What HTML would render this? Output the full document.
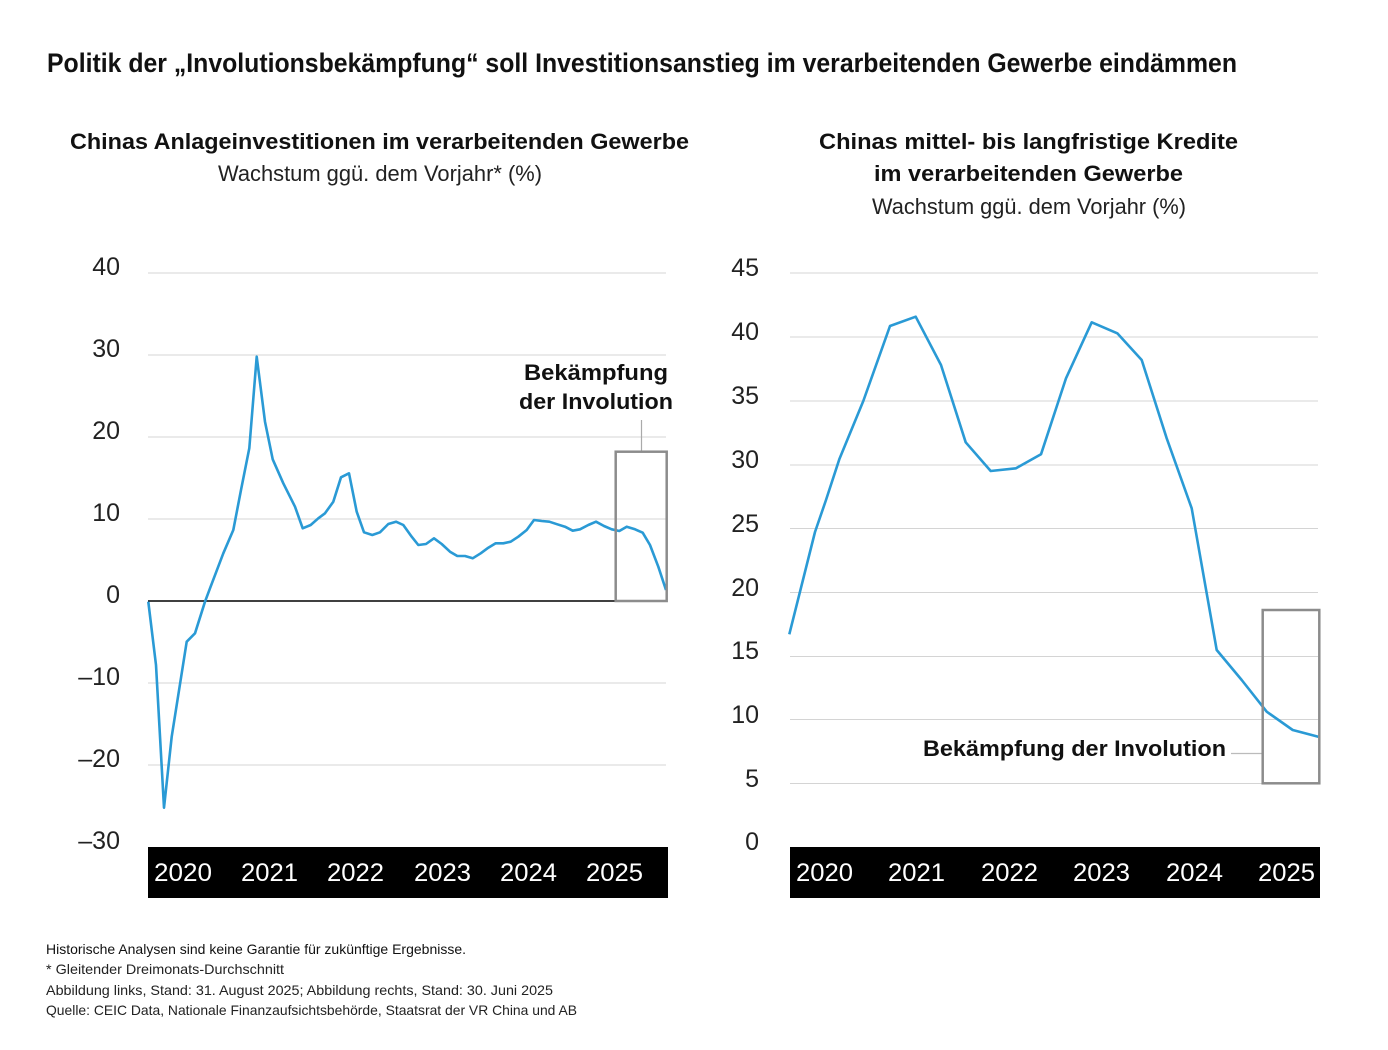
<!DOCTYPE html>
<html>
<head>
<meta charset="utf-8">
<style>
  html,body{margin:0;padding:0;background:#fff;}
  svg{display:block;}
  text{font-family:"Liberation Sans", Arial, sans-serif;}
</style>
</head>
<body>
<svg width="1388" height="1050" viewBox="0 0 1388 1050" xmlns="http://www.w3.org/2000/svg">
  <rect width="1388" height="1050" fill="#fff"/>

  <!-- Main title -->
  <text x="47" y="72" font-size="27" font-weight="bold" fill="#111" textLength="1190" lengthAdjust="spacingAndGlyphs">Politik der „Involutionsbekämpfung“ soll Investitionsanstieg im verarbeitenden Gewerbe eindämmen</text>

  <!-- Left titles -->
  <text x="70" y="149" font-size="22" font-weight="bold" fill="#111" textLength="619" lengthAdjust="spacingAndGlyphs">Chinas Anlageinvestitionen im verarbeitenden Gewerbe</text>
  <text x="218" y="181" font-size="22" fill="#222" textLength="324" lengthAdjust="spacingAndGlyphs">Wachstum ggü. dem Vorjahr* (%)</text>

  <!-- Right titles -->
  <text x="819" y="149" font-size="22" font-weight="bold" fill="#111" textLength="419" lengthAdjust="spacingAndGlyphs">Chinas mittel- bis langfristige Kredite</text>
  <text x="874" y="181" font-size="22" font-weight="bold" fill="#111" textLength="309" lengthAdjust="spacingAndGlyphs">im verarbeitenden Gewerbe</text>
  <text x="872" y="214" font-size="22" fill="#222" textLength="314" lengthAdjust="spacingAndGlyphs">Wachstum ggü. dem Vorjahr (%)</text>

  <!-- LEFT CHART -->
  <g stroke="#d4d4d4" stroke-width="1">
    <line x1="148" y1="273" x2="666" y2="273"/>
    <line x1="148" y1="355" x2="666" y2="355"/>
    <line x1="148" y1="437" x2="666" y2="437"/>
    <line x1="148" y1="519" x2="666" y2="519"/>
    <line x1="148" y1="683" x2="666" y2="683"/>
    <line x1="148" y1="765" x2="666" y2="765"/>
  </g>
  <line x1="148" y1="601" x2="616" y2="601" stroke="#000" stroke-width="1.5"/>

  <g font-size="25" fill="#222" text-anchor="end">
    <text x="120" y="275">40</text>
    <text x="120" y="357">30</text>
    <text x="120" y="439">20</text>
    <text x="120" y="521">10</text>
    <text x="120" y="603">0</text>
    <text x="120" y="685">–10</text>
    <text x="120" y="767">–20</text>
    <text x="120" y="849">–30</text>
  </g>

  <!-- left annotation -->
  <text x="596" y="380" font-size="22" font-weight="bold" fill="#111" text-anchor="middle" textLength="144" lengthAdjust="spacingAndGlyphs">Bekämpfung</text>
  <text x="596" y="409" font-size="22" font-weight="bold" fill="#111" text-anchor="middle" textLength="154" lengthAdjust="spacingAndGlyphs">der Involution</text>
  <line x1="641.5" y1="420" x2="641.5" y2="452" stroke="#aaa" stroke-width="1.2"/>

  <polyline fill="none" stroke="#2a9ad5" stroke-width="2.6" stroke-linejoin="round"
    points="148.3,601.7 156,665 164,807.7 171.7,736.7 186.7,641.7 195,633.3 205,601.7 210,588.3 223.3,553.3 233.3,530 241,490 249.3,448.3 256.7,356.7 265,421.7 272.7,459.3 283.3,483.3 295,506.7 302.7,528.3 310.7,525 318.3,518.3 325,513.3 333.3,501.7 341,477.3 349,473.3 356.7,511.7 364,532.3 372.3,535 380,532.3 388.3,524 396,521.7 403.3,525 411.7,536.7 418.3,545 426,544 434,538.3 441.7,544 450,551.7 457.3,556 465,556 472.7,558.3 480.7,553.3 488.3,547.7 495.7,543.3 503.3,543.3 510.7,541.7 518.3,536.7 526.7,530 534,520 541.7,521 549.3,521.7 557.3,524.3 565,526.7 572.7,530.7 580,529.3 588.3,525 596,521.7 604,526 611.7,529.3 619.3,531 626.7,526.7 635,529.3 642.7,532.7 650,545 658.3,566.7 666,590"/>

  <rect x="615.7" y="451.7" width="51" height="149.3" fill="none" stroke="#8c8c8c" stroke-width="2.5"/>

  <!-- left x band -->
  <rect x="148" y="847" width="520" height="51" fill="#000"/>
  <g font-size="25" fill="#fff">
    <text x="154" y="881" textLength="58" lengthAdjust="spacingAndGlyphs">2020</text>
    <text x="241" y="881" textLength="57" lengthAdjust="spacingAndGlyphs">2021</text>
    <text x="327" y="881" textLength="57" lengthAdjust="spacingAndGlyphs">2022</text>
    <text x="414" y="881" textLength="57" lengthAdjust="spacingAndGlyphs">2023</text>
    <text x="500" y="881" textLength="57" lengthAdjust="spacingAndGlyphs">2024</text>
    <text x="586" y="881" textLength="57" lengthAdjust="spacingAndGlyphs">2025</text>
  </g>

  <!-- RIGHT CHART -->
  <g stroke="#d4d4d4" stroke-width="1">
    <line x1="790" y1="273" x2="1318" y2="273"/>
    <line x1="790" y1="337" x2="1318" y2="337"/>
    <line x1="790" y1="401" x2="1318" y2="401"/>
    <line x1="790" y1="465" x2="1318" y2="465"/>
    <line x1="790" y1="528.5" x2="1318" y2="528.5"/>
    <line x1="790" y1="592.5" x2="1318" y2="592.5"/>
    <line x1="790" y1="656.5" x2="1318" y2="656.5"/>
    <line x1="790" y1="719.5" x2="1318" y2="719.5"/>
    <line x1="790" y1="783.5" x2="1318" y2="783.5"/>
  </g>

  <g font-size="25" fill="#222" text-anchor="end">
    <text x="759" y="276">45</text>
    <text x="759" y="340">40</text>
    <text x="759" y="404">35</text>
    <text x="759" y="468">30</text>
    <text x="759" y="532">25</text>
    <text x="759" y="596">20</text>
    <text x="759" y="659">15</text>
    <text x="759" y="723">10</text>
    <text x="759" y="787">5</text>
    <text x="759" y="850">0</text>
  </g>

  <!-- right annotation -->
  <rect x="920" y="734" width="311" height="28" fill="#fff"/>
  <text x="923" y="756" font-size="22" font-weight="bold" fill="#111" textLength="303" lengthAdjust="spacingAndGlyphs">Bekämpfung der Involution</text>
  <line x1="1231" y1="753.5" x2="1263" y2="753.5" stroke="#bbb" stroke-width="1.2"/>

  <polyline fill="none" stroke="#2a9ad5" stroke-width="2.6" stroke-linejoin="round"
    points="789.3,634.3 815,532 826,500 839.3,459.3 863.3,401 890,326 915.7,316.7 941,365 965.7,442.3 990.7,471 1016,468.3 1041,454.3 1066,378.3 1091.7,322.3 1117.3,333.3 1141.7,360 1166.7,438.3 1191.7,508.3 1216.7,650 1241.7,680 1266.7,711.7 1292.7,730 1318.3,736.7"/>

  <rect x="1262.7" y="610" width="56.6" height="173.3" fill="none" stroke="#8c8c8c" stroke-width="2.5"/>

  <!-- right x band -->
  <rect x="790" y="847" width="530" height="51" fill="#000"/>
  <g font-size="25" fill="#fff">
    <text x="796" y="881" textLength="57" lengthAdjust="spacingAndGlyphs">2020</text>
    <text x="888" y="881" textLength="57" lengthAdjust="spacingAndGlyphs">2021</text>
    <text x="981" y="881" textLength="57" lengthAdjust="spacingAndGlyphs">2022</text>
    <text x="1073" y="881" textLength="57" lengthAdjust="spacingAndGlyphs">2023</text>
    <text x="1166" y="881" textLength="57" lengthAdjust="spacingAndGlyphs">2024</text>
    <text x="1258" y="881" textLength="57" lengthAdjust="spacingAndGlyphs">2025</text>
  </g>

  <!-- Footnotes -->
  <text x="46" y="954" font-size="14" fill="#111" textLength="420" lengthAdjust="spacingAndGlyphs">Historische Analysen sind keine Garantie für zukünftige Ergebnisse.</text>
  <text x="46" y="974" font-size="14" fill="#222" textLength="238" lengthAdjust="spacingAndGlyphs">* Gleitender Dreimonats-Durchschnitt</text>
  <text x="46" y="995" font-size="14" fill="#222" textLength="507" lengthAdjust="spacingAndGlyphs">Abbildung links, Stand: 31. August 2025; Abbildung rechts, Stand: 30. Juni 2025</text>
  <text x="46" y="1015" font-size="14" fill="#222" textLength="531" lengthAdjust="spacingAndGlyphs">Quelle: CEIC Data, Nationale Finanzaufsichtsbehörde, Staatsrat der VR China und AB</text>
</svg>
</body>
</html>
